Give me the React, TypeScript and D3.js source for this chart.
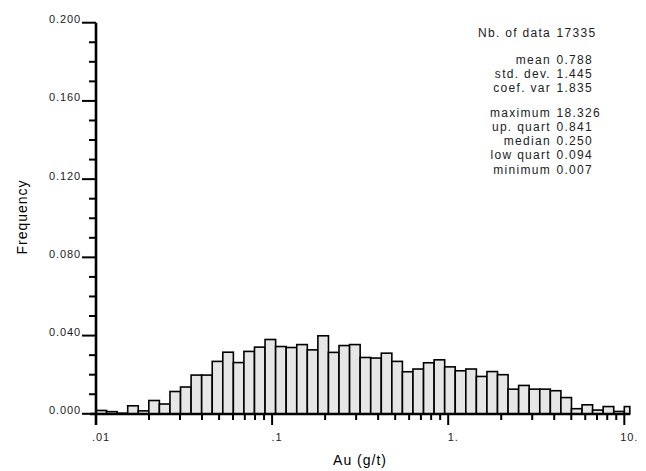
import React from "react";
import * as d3 from "d3";

// Histogram of Au (g/t), log-binned: 0.06 decades per bin starting at 0.01
const binStartLog = -2;
const binWidthLog = 0.06;
const lastBinUpper = 10.75; // last bin is clipped at the plot edge
const frequencies = [
  0.0017, 0.0011, 0.0003, 0.0041, 0.0015, 0.0068, 0.005, 0.0114, 0.0137, 0.0198,
  0.0198, 0.0268, 0.0315, 0.0262, 0.0319, 0.0341, 0.038, 0.0344, 0.0339, 0.0354,
  0.0327, 0.0399, 0.0314, 0.0349, 0.0354, 0.0288, 0.0285, 0.031, 0.0268, 0.0215,
  0.0229, 0.0261, 0.0276, 0.024, 0.022, 0.0229, 0.0191, 0.0216, 0.02, 0.0126,
  0.0145, 0.0126, 0.0126, 0.0118, 0.0083, 0.0026, 0.0046, 0.0019, 0.0037, 0.0012,
  0.0037,
];

const yMajorTicks = [0, 0.04, 0.08, 0.12, 0.16, 0.2];
const yMajorLabels = ["0.000", "0.040", "0.080", "0.120", "0.160", "0.200"];
const yMinorTicks = [0.01, 0.02, 0.03, 0.05, 0.06, 0.07, 0.09, 0.1, 0.11, 0.13, 0.14, 0.15, 0.17, 0.18, 0.19];
const xMajorTicks = [0.01, 0.1, 1, 10];
const xMajorLabels = [".01", ".1", "1.", "10."];

const statLabels = ["Nb. of data", "mean", "std. dev.", "coef. var", "maximum", "up. quart", "median", "low quart", "minimum"];
const statValues = ["17335", "0.788", "1.445", "1.835", "18.326", "0.841", "0.250", "0.094", "0.007"];
const statBaselines = [37, 63.5, 77.5, 91.5, 117, 131, 145, 159.3, 173.5];

const FONT = "'Liberation Sans', Arial, sans-serif";

export default function App() {
  const x = d3.scaleLog().domain([0.01, 10]).range([96, 624.3]);
  const y = d3.scaleLinear().domain([0, 0.2]).range([413.8, 22.7]);
  const y0 = y(0);

  const bins = frequencies.map((v, i) => {
    const lo = Math.pow(10, binStartLog + i * binWidthLog);
    let hi = Math.pow(10, binStartLog + (i + 1) * binWidthLog);
    if (i === frequencies.length - 1) hi = lastBinUpper;
    return { lo, hi, v };
  });

  const xMinor: number[] = [];
  [0.01, 0.1, 1].forEach((d) => {
    for (let k = 2; k <= 9; k++) xMinor.push(d * k);
  });

  return (
    <svg
      width={646}
      height={471}
      style={{ position: "absolute", left: 0, top: 0, background: "#fff" }}
      fontFamily={FONT}
    >
      <rect x={0} y={0} width={646} height={471} fill="#fff" />
      {/* bars */}
      {bins.map((b, i) => (
        <rect
          key={i}
          x={x(b.lo)}
          y={y(b.v)}
          width={x(b.hi) - x(b.lo)}
          height={y0 - y(b.v)}
          fill="#e6e6e6"
          stroke="#000"
          strokeWidth={1.6}
        />
      ))}

      {/* y axis */}
      <line x1={96} x2={96} y1={y(0.2)} y2={425} stroke="#000" strokeWidth={2.6} />
      {yMajorTicks.map((t, i) => (
        <g key={"ym" + i}>
          <line x1={82} x2={96} y1={y(t)} y2={y(t)} stroke="#000" strokeWidth={2} />
          <text
            x={81}
            y={y(t) + 0.5}
            textAnchor="end"
            fontSize={11}
            letterSpacing={0.9}
            fill="#222"
          >
            {yMajorLabels[i]}
          </text>
        </g>
      ))}
      {yMinorTicks.map((t, i) => (
        <line key={"yn" + i} x1={89} x2={96} y1={y(t)} y2={y(t)} stroke="#000" strokeWidth={2} />
      ))}

      {/* x axis */}
      <line x1={90} x2={630} y1={414} y2={414} stroke="#000" strokeWidth={2.6} />
      {xMajorTicks.map((t, i) => (
        <g key={"xm" + i}>
          <line x1={x(t)} x2={x(t)} y1={414} y2={425} stroke="#000" strokeWidth={2} />
          <text
            x={x(t) + 5}
            y={440.5}
            textAnchor="middle"
            fontSize={11}
            letterSpacing={0.9}
            fill="#222"
          >
            {xMajorLabels[i]}
          </text>
        </g>
      ))}
      {xMinor.map((t, i) => (
        <line key={"xn" + i} x1={x(t)} x2={x(t)} y1={414} y2={420} stroke="#000" strokeWidth={2} />
      ))}

      {/* axis titles */}
      <text
        x={360}
        y={465}
        textAnchor="middle"
        fontSize={14}
        letterSpacing={1}
        fill="#000"
      >
        Au (g/t)
      </text>
      <text
        transform={`translate(27,217) rotate(-90)`}
        textAnchor="middle"
        fontSize={14}
        letterSpacing={1}
        fill="#000"
      >
        Frequency
      </text>

      {/* statistics */}
      {statLabels.map((s, i) => (
        <g key={"st" + i}>
          <text
            x={551}
            y={statBaselines[i]}
            textAnchor="end"
            fontSize={12}
            letterSpacing={1.3}
            fill="#222"
          >
            {s}
          </text>
          <text
            x={556.5}
            y={statBaselines[i]}
            textAnchor="start"
            fontSize={12}
            letterSpacing={1.3}
            fill="#222"
          >
            {statValues[i]}
          </text>
        </g>
      ))}
    </svg>
  );
}
